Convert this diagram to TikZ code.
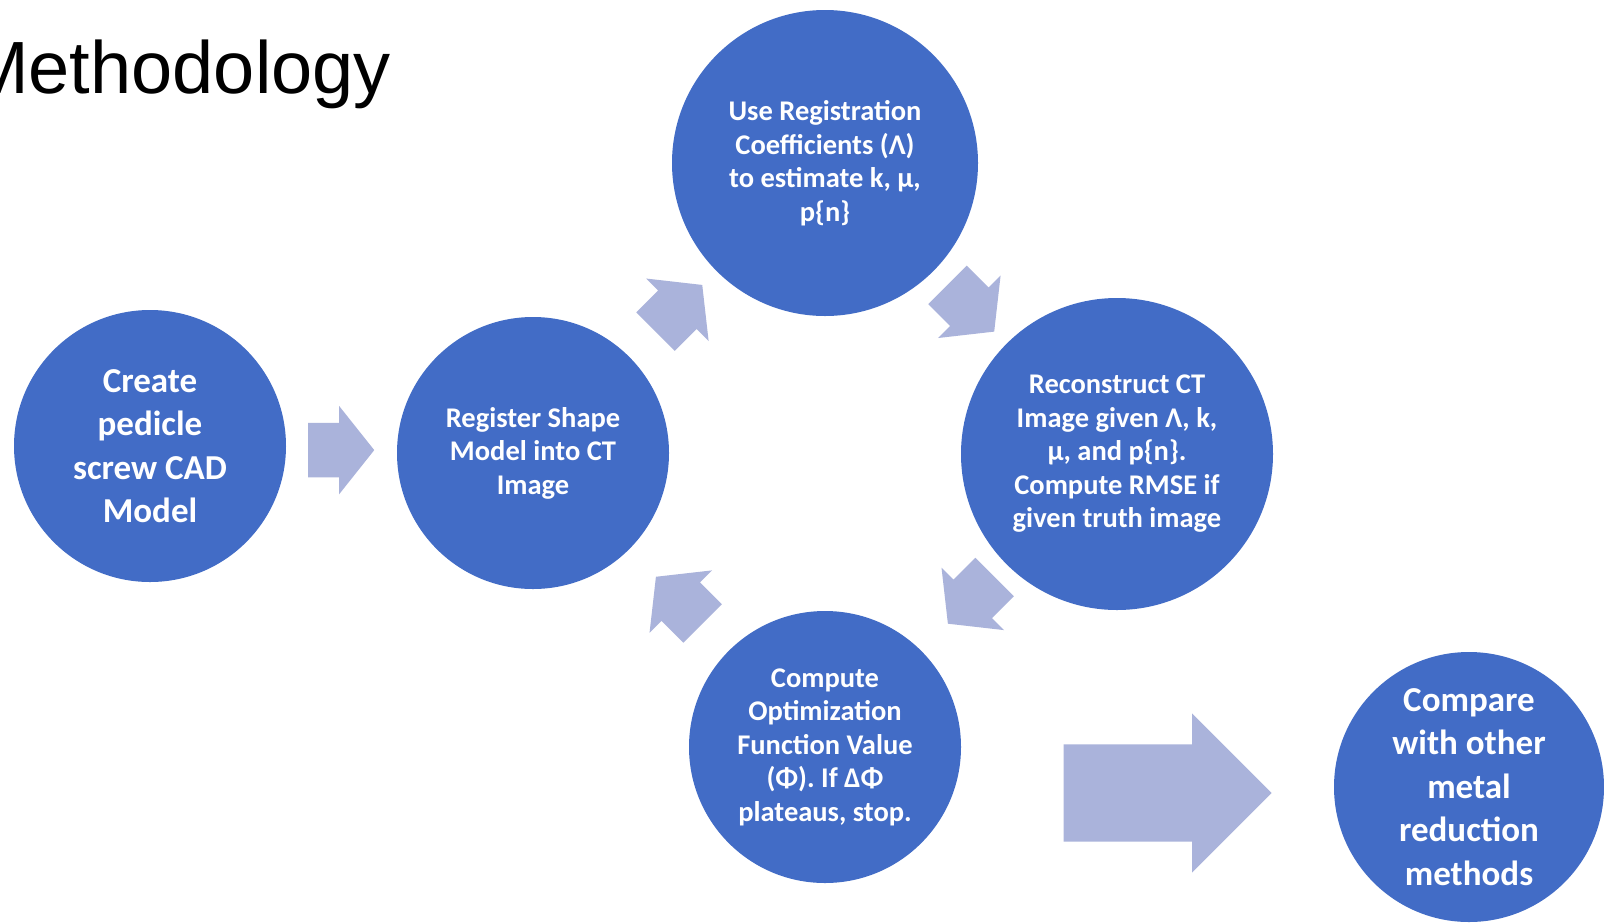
\documentclass[tikz,border=0pt]{standalone}
\usepackage{fontspec}
\setmainfont{Carlito}
\newfontfamily\titlefont{Liberation Sans}
\usepackage{tikz}
\usetikzlibrary{calc,shapes.arrows}
\definecolor{stepblue}{RGB}{66,108,198}
\definecolor{flowgray}{RGB}{170,179,219}
\tikzset{
  stepsmall/.style = {circle,fill=stepblue,inner sep=0pt,text=white,align=center,
                      font=\bfseries\fontsize{28.5}{33.5}\selectfont},
  steplarge/.style = {stepsmall,font=\bfseries\fontsize{35}{43.5}\selectfont},
  flow/.style      = {single arrow,fill=flowgray,inner sep=0pt,text height=54pt,text depth=0pt,
                      minimum height=66pt,single arrow head extend=17pt,single arrow tip angle=103,
                      anchor=tip},
  bigflow/.style   = {flow,text height=97pt,minimum height=208pt,
                      single arrow head extend=31pt,single arrow tip angle=90},
  heading/.style   = {anchor=base west,inner sep=0pt,font=\titlefont\fontsize{74}{80}\selectfont}
}
\newcommand{\FlowArrow}[4]{%
  % block arrow centred halfway between two steps, tip turned towards the next one
  \node[flow,rotate=#4] (#1) at ($(#2)!0.5!(#3)!33pt!(#3)$) {};
}

\begin{document}
\begin{tikzpicture}[x=1pt,y=-1pt]
    \fill[white] (0,0) rectangle (1604,922);
    \useasboundingbox (0,0) rectangle (1604,922);

    \node[heading] (title) at (-33,93) {Methodology};

    % the steps
    \node[steplarge,minimum size=272pt] (create) at (150,446)
    {Create\\pedicle\\screw CAD\\Model};
    \node[stepsmall,minimum size=272pt] (register) at (533,453)
    {Register Shape\\Model into CT\\Image};
    \node[stepsmall,minimum size=306pt] (estimate) at (825,163)
    {Use Registration\\Coefficients (Λ)\\to estimate k, μ,\\p\{n\}};
    \node[stepsmall,minimum size=312pt] (reconstruct) at (1117,454)
    {Reconstruct CT\\Image given Λ, k,\\μ, and p\{n\}.\\Compute RMSE if\\given truth image};
    \node[stepsmall,minimum size=272pt] (optimize) at (825,747)
    {Compute\\Optimization\\Function Value\\(Φ). If ΔΦ\\plateaus, stop.};
    \node[steplarge,minimum size=270pt] (compare) at (1469,787)
    {Compare\\with other\\metal\\reduction\\methods};

    % the loop
    \FlowArrow{a1}{create}{register}{0}
    \FlowArrow{a2}{register}{estimate}{45}
    \FlowArrow{a3}{estimate}{reconstruct}{-45}
    \FlowArrow{a4}{reconstruct}{optimize}{-135}
    \FlowArrow{a5}{optimize}{register}{135}

    \node[bigflow] (a6) at ($(optimize)!0.5!(compare)+(125,26)$) {};
\end{tikzpicture}
\end{document}
